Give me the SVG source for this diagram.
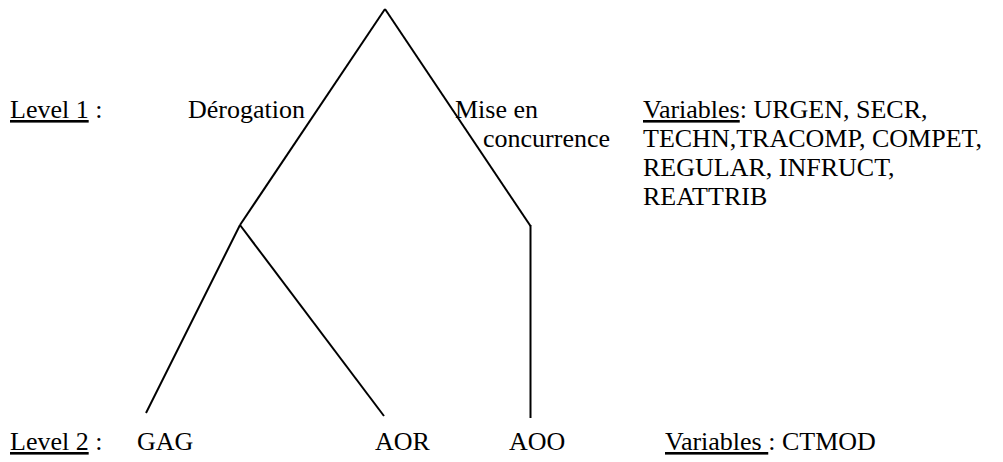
<svg xmlns="http://www.w3.org/2000/svg" width="1003" height="462" viewBox="0 0 1003 462">
<style>
text{font-family:"Liberation Serif","Times New Roman",serif;font-size:26px;fill:#000}
.u{text-decoration:underline}
line{stroke:#000;stroke-width:2;stroke-linecap:butt}
</style>
<rect width="1003" height="462" fill="#fff"/>
<g id="connectors">
<line x1="385" y1="9" x2="240" y2="225"/>
<line x1="385" y1="9" x2="530.5" y2="226"/>
<line x1="530.5" y1="225" x2="530.5" y2="418"/>
<line x1="240" y1="225" x2="146" y2="413"/>
<line x1="240" y1="225" x2="384" y2="416"/>
</g>
<g id="level1"><text x="10" y="118"><tspan class="u">Level 1</tspan> :</text></g>
<g id="derogation"><text x="188" y="118">Dérogation</text></g>
<g id="mise"><text x="455" y="118">Mise en</text><text x="483" y="147">concurrence</text></g>
<g id="vars1"><text x="643" y="118"><tspan class="u">Variables</tspan>: URGEN, SECR,</text>
<text x="643" y="147">TECHN,TRACOMP, COMPET,</text>
<text x="643" y="176">REGULAR, INFRUCT,</text>
<text x="643" y="205">REATTRIB</text></g>
<g id="level2"><text x="10" y="450"><tspan class="u">Level 2</tspan> :</text></g>
<g id="gag"><text x="137" y="450">GAG</text></g>
<g id="aor"><text x="375" y="450">AOR</text></g>
<g id="aoo"><text x="509" y="450">AOO</text></g>
<g id="vars2"><text x="665" y="450"><tspan class="u">Variables </tspan>: CTMOD</text></g>
</svg>
